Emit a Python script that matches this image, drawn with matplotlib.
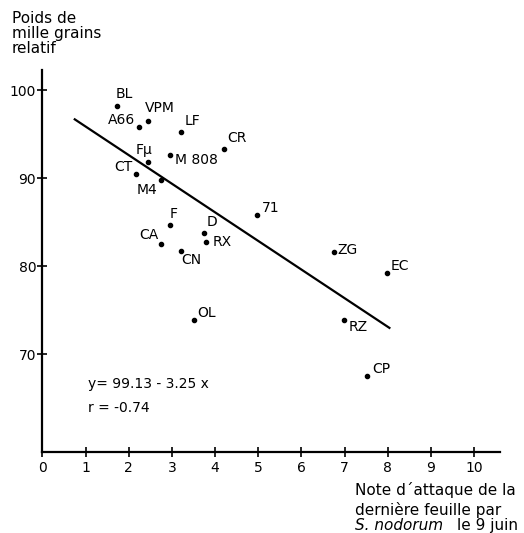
import numpy as np
import matplotlib as mpl
mpl.use('Agg')
from matplotlib import pyplot as plt

# Varietes: note d'attaque (x) et poids de mille grains relatif (y)
labels = ['BL', 'VPM', 'A66', 'LF', 'CR', 'F\u03bc', 'M 808', 'CT', 'M4', 'F',
          'D', 'RX', 'CA', 'CN', '71', 'ZG', 'OL', 'RZ', 'EC', 'CP']
note = [1.72, 2.45, 2.24, 3.20, 4.21, 2.44, 2.95, 2.18, 2.74, 2.95,
        3.74, 3.78, 2.75, 3.20, 4.97, 6.75, 3.51, 6.99, 7.98, 7.52]
pmg = [98.2, 96.5, 95.8, 95.3, 93.3, 91.85, 92.6, 90.5, 89.8, 84.7,
       83.8, 82.7, 82.5, 81.7, 85.8, 81.6, 73.9, 73.9, 79.2, 67.5]

# droite de regression
a, b = 99.13, -3.25
x_line = [0.75, 8.04]

x_ticks = list(range(0, 11))
y_ticks = [70, 80, 90, 100]

# label placement: (dx, dy) in pixels, ha, va
lab_pos = {
    'BL': (-1, 5, 'left', 'bottom'), 'VPM': (-3, 6, 'left', 'bottom'),
    'A66': (-4, 0, 'right', 'bottom'), 'LF': (4, 4, 'left', 'bottom'),
    'CR': (3, 4, 'left', 'bottom'), 'F\u03bc': (-4, 5, 'center', 'bottom'),
    'M 808': (5, -5, 'left', 'center'), 'CT': (-4, 0, 'right', 'bottom'),
    'M4': (-3, -3, 'right', 'top'), 'F': (0, 4, 'left', 'bottom'),
    'D': (3, 4, 'left', 'bottom'), 'RX': (7, 0, 'left', 'center'),
    'CA': (-3, 2, 'right', 'bottom'), 'CN': (1, -2, 'left', 'top'),
    '71': (5, 0, 'left', 'bottom'), 'ZG': (4, 2, 'left', 'center'),
    'OL': (3, 0, 'left', 'bottom'), 'RZ': (5, 0, 'left', 'top'),
    'EC': (4, 0, 'left', 'bottom'), 'CP': (5, 0, 'left', 'bottom'),
}

sz = 10
lw = 1.6

fig = plt.figure(figsize=(5.24, 5.33), dpi=100)
ax = fig.add_axes([0.0809, 0.152, 0.954 - 0.0809, 0.8687 - 0.152])

ax.plot(note, pmg, 'o', color='black', markersize=3)
ax.plot(x_line, [a + b * v for v in x_line], color='black', linewidth=lw)

for lab, xv, yv in zip(labels, note, pmg):
    dx, dy, ha, va = lab_pos[lab]
    ax.annotate(lab, (xv, yv), xytext=(dx, dy), textcoords='offset pixels',
                ha=ha, va=va, fontsize=sz)

ax.set_xlim(0, 10.6)
ax.set_ylim(58.9, 102.3)
ax.set_xticks(x_ticks)
ax.set_yticks(y_ticks)
ax.spines['top'].set_visible(False)
ax.spines['right'].set_visible(False)
ax.spines['left'].set_linewidth(lw)
ax.spines['bottom'].set_linewidth(lw)
ax.tick_params(axis='both', direction='inout', length=7, width=1.2, labelsize=sz)
ax.tick_params(axis='x', pad=3)
ax.tick_params(axis='y', pad=1)

ax.text(0.1, (452 - 388) / 382, 'y= 99.13 - 3.25 x', transform=ax.transAxes,
        fontsize=sz, va='baseline')
ax.text(0.1, (452 - 412) / 382, 'r = -0.74', transform=ax.transAxes,
        fontsize=sz, va='baseline')

# titre de l'axe y
for txt, base in [('Poids de', 23), ('mille grains', 38), ('relatif', 53)]:
    fig.text(12 / 524, 1 - base / 533, txt, ha='left', va='baseline', fontsize=11)

# titre de l'axe x
fig.text(355 / 524, 1 - 495 / 533, "Note d\u00b4attaque de la", ha='left',
         va='baseline', fontsize=11)
fig.text(355 / 524, 1 - 515 / 533, "dernière feuille par", ha='left',
         va='baseline', fontsize=11)
fig.text(355 / 524, 1 - 530 / 533, 'S. nodorum', ha='left', va='baseline',
         fontsize=11, style='italic')
fig.text(457 / 524, 1 - 530 / 533, 'le 9 juin', ha='left', va='baseline', fontsize=11)

plt.savefig('out.png')
plt.close()
